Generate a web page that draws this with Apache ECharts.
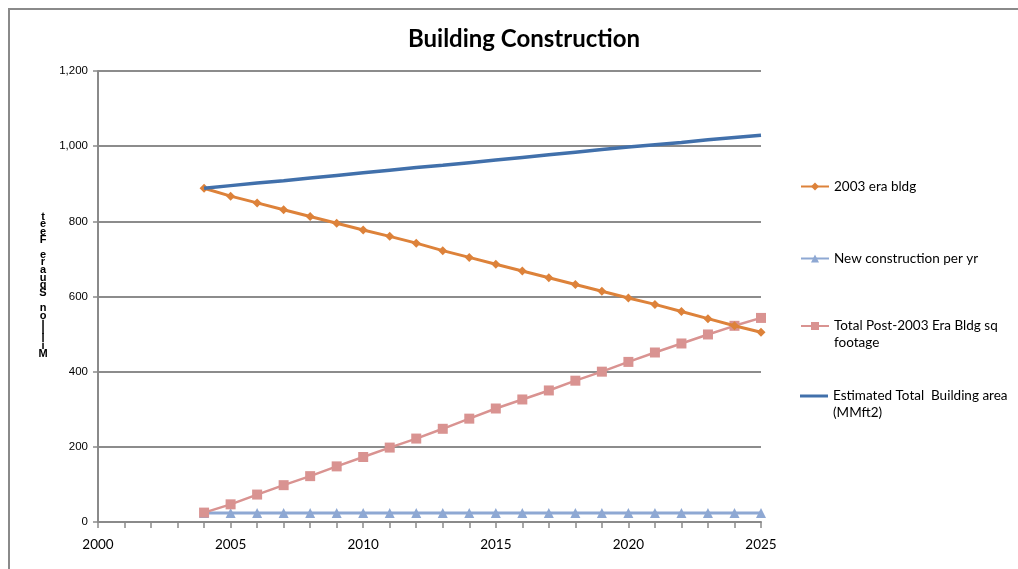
<!DOCTYPE html>
<html><head><meta charset="utf-8">
<script src="https://cdn.jsdelivr.net/npm/echarts@6/dist/echarts.min.js"></script>
<style>html,body{margin:0;padding:0;background:#fff}#c{width:1018px;height:569px}</style>
</head><body><div id="c"></div>
<script>
const years = [2004,2005,2006,2007,2008,2009,2010,2011,2012,2013,2014,2015,2016,2017,2018,2019,2020,2021,2022,2023,2024,2025];
const era2003 = [888,867,849,831,813,795,777,760,742,722,704,686,668,650,632,614,596,579,560,541,522,505];
const newPerYr = [24,24,24,24,24,24,24,24,24,24,24,24,24,24,24,24,24,24,24,24,24,24];
const postEra = [25,47,73,98,122,148,173,198,222,248,275,302,326,350,376,400,426,451,475,499,522,543];
const totalArea = [888,895,902,908,915,922,929,936,943,949,956,963,970,977,984,991,998,1004,1010,1017,1023,1029];
const seriesNames = ['2003 era bldg','New construction per yr','Total Post-2003 Era Bldg sq footage','Estimated Total  Building area (MMft2)'];
const legendLabels = ['2003 era bldg','New construction per yr','\nTotal Post-2003 Era Bldg sq\nfootage','\nEstimated Total  Building area\n(MMft2)'];
const yTitle = 'teeF erauqS noilliM';
const title = 'Building Construction';

const pair = arr => years.map((y,i)=>[y,arr[i]]);
const chart = echarts.init(document.getElementById('c'), null, {renderer:'canvas'});
const legendTops = [173,245,295.5,365.5];
const legends = seriesNames.map((n,i)=>({
  data:[i===3 ? {name:n, icon:'rect'} : n], orient:'vertical', left:795, top:legendTops[i],
  itemWidth:28, itemHeight:(i===3 ? 3 : 10), itemGap:0,
  textStyle:{fontFamily:'Lato, "Open Sans", sans-serif', fontSize:13.5, color:'#000', lineHeight:17},
  formatter: name => legendLabels[seriesNames.indexOf(name)]
}));
chart.setOption({
  animation:false,
  backgroundColor:'#fff',
  title:{text:title, left:519, top:22, textAlign:'center',
    textStyle:{fontFamily:'Lato, sans-serif', fontWeight:'bold', fontSize:24, color:'#000'}},
  legend: legends,
  grid:{left:98, right:257, top:71, bottom:47, containLabel:false},
  xAxis:{type:'value', min:2000, max:2025, interval:5,
    axisLine:{lineStyle:{color:'#8a8a8a', width:2}},
    axisTick:{show:true, length:6, lineStyle:{color:'#8a8a8a', width:1.5}},
    minorTick:{show:true, splitNumber:5, length:6, lineStyle:{color:'#8a8a8a', width:1.5}},
    splitLine:{show:false},
    axisLabel:{margin:16, fontFamily:'Lato, "Open Sans", sans-serif', fontSize:13.5, color:'#000', formatter: v=>String(v)}},
  yAxis:{type:'value', min:0, max:1200, interval:200,
    axisLine:{show:true, lineStyle:{color:'#8a8a8a', width:2}},
    axisTick:{show:true, length:5, lineStyle:{color:'#8a8a8a', width:1.5}},
    splitLine:{show:true, lineStyle:{color:'#8c8c8c', width:2}},
    axisLabel:{margin:10, fontFamily:'"Liberation Sans", Arial, sans-serif', fontSize:11.5, color:'#000',
      formatter: v=>v.toLocaleString('en-US')}},
  graphic:[
    {type:'rect', shape:{x:9, y:9, width:1200, height:700}, style:{fill:null, stroke:'#8a8a8a', lineWidth:2}, silent:true, z:-10},
    {type:'text', x:43, y:213, style:{text:yTitle.split('').join('\n'), font:'bold 11px "Liberation Sans", Arial, sans-serif',
      lineHeight:7.6, fill:'#000', align:'center', verticalAlign:'top'}}
  ],
  series:[
    {name:seriesNames[0], type:'line', data:pair(era2003), symbol:'diamond', symbolSize:9,
      lineStyle:{color:'#DD823A', width:3}, itemStyle:{color:'#DD823A'}, z:4},
    {name:seriesNames[1], type:'line', data:pair(newPerYr), symbol:'triangle', symbolSize:10,
      lineStyle:{color:'#8EA8D3', width:3}, itemStyle:{color:'#8EA8D3'}, z:2},
    {name:seriesNames[2], type:'line', data:pair(postEra), symbol:'rect', symbolSize:10,
      lineStyle:{color:'#D99391', width:2.5}, itemStyle:{color:'#D99391'}, z:3},
    {name:seriesNames[3], type:'line', data:pair(totalArea), symbol:'none',
      lineStyle:{color:'#4170AB', width:3.5}, itemStyle:{color:'#4170AB'}, z:5}
  ]
});
</script></body></html>
